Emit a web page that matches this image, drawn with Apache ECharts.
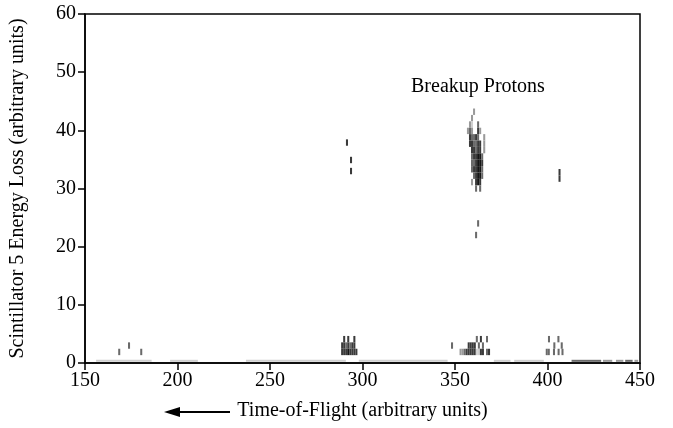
<!DOCTYPE html>
<html>
<head>
<meta charset="utf-8">
<script src="https://cdn.jsdelivr.net/npm/echarts@6/dist/echarts.min.js"></script>
<style>
  html, body { margin: 0; padding: 0; background: #fff; }
  #chart { width: 673px; height: 428px; }
</style>
</head>
<body>
<div id="chart"></div>
<script>
// bin size of the 2D histogram (time-of-flight, energy loss)
const binW = 1.1;
const binH = 1.1;

// axis ticks
const tofTicks = [150, 200, 250, 300, 350, 400, 450];
const elossTicks = [0, 10, 20, 30, 40, 50, 60];

// cells: [time-of-flight, energy loss, count level 1..5]
const protonCells = [
  [360.3, 43.2, 2],
  [359.2, 42.1, 2],
  [358.1, 41.0, 2], [359.2, 41.0, 1], [362.5, 41.0, 3],
  [357.0, 39.9, 2], [358.1, 39.9, 3], [359.2, 39.9, 2], [362.5, 39.9, 4], [363.6, 39.9, 2],
  [358.1, 38.8, 4], [359.2, 38.8, 3], [360.3, 38.8, 3], [361.4, 38.8, 4], [362.5, 38.8, 3], [365.8, 38.8, 2],
  [358.1, 37.7, 4], [359.2, 37.7, 4], [360.3, 37.7, 3], [361.4, 37.7, 3], [362.5, 37.7, 4], [363.6, 37.7, 4], [365.8, 37.7, 2],
  [359.2, 36.6, 4], [360.3, 36.6, 4], [361.4, 36.6, 3], [362.5, 36.6, 4], [363.6, 36.6, 4], [365.8, 36.6, 2],
  [359.2, 35.5, 3], [360.3, 35.5, 4], [361.4, 35.5, 4], [362.5, 35.5, 5], [363.6, 35.5, 5], [364.7, 35.5, 3],
  [359.2, 34.4, 3], [360.3, 34.4, 3], [361.4, 34.4, 4], [362.5, 34.4, 5], [363.6, 34.4, 5], [364.7, 34.4, 4],
  [359.2, 33.3, 3], [360.3, 33.3, 4], [361.4, 33.3, 4], [362.5, 33.3, 5], [363.6, 33.3, 5], [364.7, 33.3, 3],
  [360.3, 32.2, 3], [361.4, 32.2, 4], [362.5, 32.2, 5], [363.6, 32.2, 5], [364.7, 32.2, 3],
  [359.2, 31.1, 2], [361.4, 31.1, 4], [362.5, 31.1, 5], [363.6, 31.1, 4],
  [361.4, 30.0, 3], [363.6, 30.0, 3],
  [362.5, 24.0, 3],
  [361.4, 22.0, 3]
];

const strayCells = [
  [291.6, 37.9, 4], [293.8, 34.9, 4], [293.8, 33.0, 4],
  [406.5, 32.8, 4], [406.5, 31.7, 4],
  [168.5, 1.9, 3], [173.8, 3.0, 3], [180.4, 1.9, 3],
  [348.4, 3.0, 3]
];

const lowCells = [
  // group near 290
  [290.1, 4.1, 4], [292.3, 4.1, 4], [295.6, 4.1, 4],
  [289.0, 3.0, 4], [290.1, 3.0, 4], [291.2, 3.0, 3], [292.3, 3.0, 4], [293.4, 3.0, 3], [294.5, 3.0, 4], [295.6, 3.0, 4],
  [289.0, 1.9, 4], [290.1, 1.9, 4], [291.2, 1.9, 4], [292.3, 1.9, 5], [293.4, 1.9, 4], [294.5, 1.9, 4], [295.6, 1.9, 4], [296.7, 1.9, 4],
  // group near 360
  [361.8, 4.1, 3], [364.0, 4.1, 4], [367.3, 4.1, 3],
  [357.4, 3.0, 4], [358.5, 3.0, 4], [359.6, 3.0, 4], [360.7, 3.0, 4], [362.9, 3.0, 3], [365.1, 3.0, 3],
  [353.0, 1.9, 2], [354.1, 1.9, 2], [355.2, 1.9, 3], [356.3, 1.9, 4], [357.4, 1.9, 4], [358.5, 1.9, 4], [359.6, 1.9, 4], [360.7, 1.9, 4],
  [361.8, 1.9, 1], [362.9, 1.9, 1], [364.0, 1.9, 4], [365.1, 1.9, 4], [367.3, 1.9, 3], [368.4, 1.9, 4],
  // group near 405
  [400.8, 4.1, 3], [405.9, 4.1, 3],
  [403.7, 3.0, 3], [407.7, 3.0, 3],
  [399.6, 1.9, 3], [400.7, 1.9, 3], [403.5, 1.9, 3], [406.0, 1.9, 3], [408.1, 1.9, 3]
];

// faint counts along zero energy loss: [tof start, tof end, level]
const baseSegments = [
  [156, 186, 1], [196, 211, 1], [237, 291, 1], [298, 346, 1],
  [371, 380, 1], [382, 398, 1], [413, 429, 3], [430, 435, 2],
  [437, 441, 2], [442, 446, 3], [447, 449, 2]
];

const shades = ['#cfcfcf', '#9a9a9a', '#6a6a6a', '#3a3a3a', '#151515'];

const chart = echarts.init(document.getElementById('chart'));

function cellItem(params, api) {
  const x = api.value(0), y = api.value(1), c = api.value(2);
  const p0 = api.coord([x - binW / 2, y + binH / 2]);
  const p1 = api.coord([x + binW / 2, y - binH / 2]);
  return {
    type: 'rect',
    shape: { x: p0[0], y: p0[1], width: p1[0] - p0[0], height: p1[1] - p0[1] },
    style: { fill: shades[c - 1] }
  };
}

function baseItem(params, api) {
  const p0 = api.coord([api.value(0), 0.55]);
  const p1 = api.coord([api.value(1), 0.2]);
  return {
    type: 'rect',
    shape: { x: p0[0], y: p0[1], width: p1[0] - p0[0], height: p1[1] - p0[1] },
    style: { fill: shades[api.value(2) - 1] }
  };
}

const font = '"Liberation Serif", "Times New Roman", serif';

chart.setOption({
  animation: false,
  textStyle: { fontFamily: font, color: '#000' },
  grid: { left: 85, right: 33, top: 14, bottom: 65, show: true, borderColor: '#000', borderWidth: 1.5 },
  xAxis: {
    type: 'value',
    min: tofTicks[0], max: tofTicks[tofTicks.length - 1], interval: 50,
    name: 'Time-of-Flight (arbitrary units)',
    nameLocation: 'middle', nameGap: 38,
    nameTextStyle: { fontFamily: font, fontSize: 20, color: '#000' },
    axisLine: { lineStyle: { color: '#000', width: 1.5 } },
    axisTick: { length: 7, lineStyle: { color: '#000', width: 1.5 } },
    axisLabel: { fontFamily: font, fontSize: 20, color: '#000', margin: 8 },
    splitLine: { show: false }
  },
  yAxis: {
    type: 'value',
    min: elossTicks[0], max: elossTicks[elossTicks.length - 1], interval: 10,
    name: 'Scintillator 5 Energy Loss (arbitrary units)',
    nameLocation: 'middle', nameGap: 57, nameRotate: 90,
    nameTextStyle: { fontFamily: font, fontSize: 20, color: '#000' },
    axisLine: { lineStyle: { color: '#000', width: 1.5 } },
    axisTick: { length: 7, lineStyle: { color: '#000', width: 1.5 } },
    axisLabel: { fontFamily: font, fontSize: 20, color: '#000', margin: 9 },
    splitLine: { show: false }
  },
  graphic: [
    {
      type: 'text', left: 411, top: 77,
      style: { text: 'Breakup Protons', font: '20px ' + font, fill: '#000' }
    },
    {
      type: 'line',
      shape: { x1: 178, y1: 412, x2: 230, y2: 412 },
      style: { stroke: '#000', lineWidth: 2 }
    },
    {
      type: 'polygon',
      shape: { points: [[164, 412], [180, 407], [180, 417]] },
      style: { fill: '#000' }
    }
  ],
  series: [
    { type: 'custom', name: 'baseline', renderItem: baseItem, data: baseSegments, clip: true },
    { type: 'custom', name: 'low', renderItem: cellItem, data: lowCells, clip: true },
    { type: 'custom', name: 'stray', renderItem: cellItem, data: strayCells, clip: true },
    { type: 'custom', name: 'protons', renderItem: cellItem, data: protonCells, clip: true }
  ]
});
</script>
</body>
</html>
